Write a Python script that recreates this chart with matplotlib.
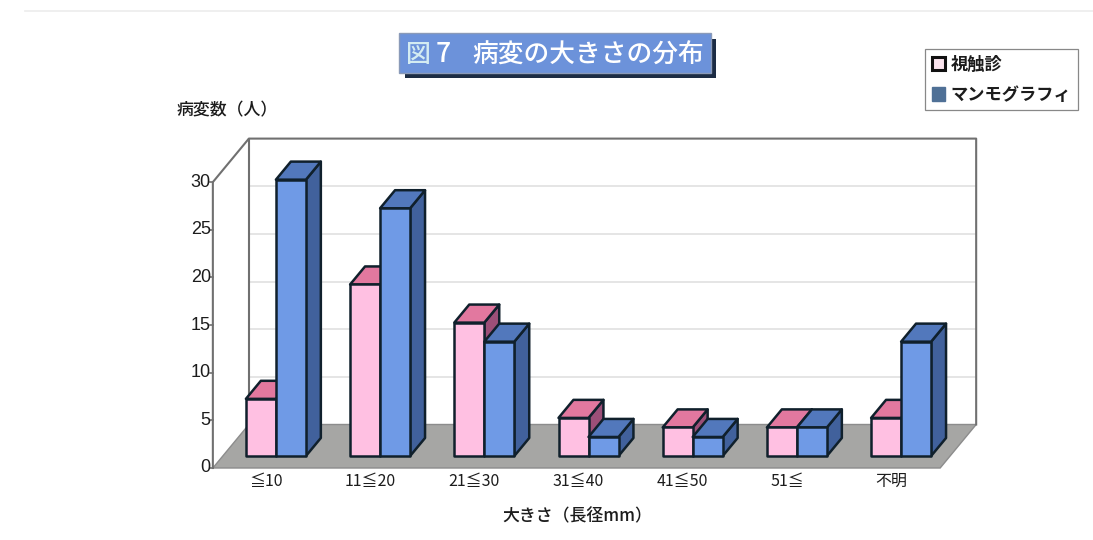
import matplotlib
matplotlib.use('Agg')
import matplotlib.pyplot as plt
from matplotlib.patches import Polygon, Patch, Rectangle

plt.rcParams['font.family'] = ['Noto Sans CJK JP', 'DejaVu Sans']

categories = ['≦10', '11≦20', '21≦30', '31≦40', '41≦50', '51≦', '不明']
palpation = [6, 18, 14, 4, 3, 3, 4]
mammography = [29, 26, 12, 2, 2, 3, 12]
y_ticks = [0, 5, 10, 15, 20, 25, 30]

W, H = 1093, 540
CAT_PX = 104.2   # pixels per category
VAL_PX = 9.53    # pixels per count
X0_PX, Y0_PX = 266, 468

# oblique depth direction, in data units per unit of depth
DEPTH_X = 36 / CAT_PX
DEPTH_Y = 43.5 / VAL_PX
BAR_W = 30 / CAT_PX
BAR_D0, BAR_D1 = 0.275, 0.69

PINK = ('#ffc0e2', '#e2789f', '#9c4f78')
BLUE = ('#6f9ae6', '#5278bc', '#41619c')
EDGE = '#10202c'
WALL = '#707070'
TEXT = '#1c1c1c'


def proj(x, v, d):
    return (x + d * DEPTH_X, v + d * DEPTH_Y)


def draw_box(ax, left, value, colors):
    right = left + BAR_W
    front = [proj(left, 0, BAR_D0), proj(right, 0, BAR_D0),
             proj(right, value, BAR_D0), proj(left, value, BAR_D0)]
    top = [proj(left, value, BAR_D0), proj(right, value, BAR_D0),
           proj(right, value, BAR_D1), proj(left, value, BAR_D1)]
    side = [proj(right, 0, BAR_D0), proj(right, 0, BAR_D1),
            proj(right, value, BAR_D1), proj(right, value, BAR_D0)]
    for pts, col in zip((side, top, front), (colors[2], colors[1], colors[0])):
        ax.add_patch(Polygon(pts, closed=True, facecolor=col, edgecolor=EDGE,
                             linewidth=1.8, joinstyle='round', zorder=5))


fig = plt.figure(figsize=(W / 100, H / 100), dpi=100)
ax = fig.add_axes([0, 0, 1, 1])
ax.set_xlim(-X0_PX / CAT_PX, (W - X0_PX) / CAT_PX)
ax.set_ylim((Y0_PX - H) / VAL_PX, Y0_PX / VAL_PX)
ax.axis('off')

xl, xr = -0.51, 6.47
vtop = y_ticks[-1]

# floor
floor = [proj(xl, 0, 0), proj(xr, 0, 0), proj(xr, 0, 1), proj(xl, 0, 1)]
ax.add_patch(Polygon(floor, closed=True, facecolor='#a6a6a4', edgecolor='#8c8c8c',
                     linewidth=1.0, zorder=2))

# gridlines on the back wall
for v in y_ticks[1:-1]:
    a, b = proj(xl, v, 1), proj(xr, v, 1)
    ax.plot([a[0], b[0]], [a[1], b[1]], color='#e0e0e0', lw=1.2, zorder=1)

# wall outlines
outline = [proj(xl, 0, 0), proj(xl, vtop, 0), proj(xl, vtop, 1), proj(xr, vtop, 1),
           proj(xr, 0, 1)]
ax.plot([p[0] for p in outline], [p[1] for p in outline], color=WALL, lw=1.5, zorder=3)
a, b = proj(xl, 0, 1), proj(xl, vtop, 1)
ax.plot([a[0], b[0]], [a[1], b[1]], color=WALL, lw=1.5, zorder=1.5)

# value axis ticks and labels
for v in y_ticks:
    ax.plot([xl - 0.03, xl], [v, v], color=WALL, lw=1.2, zorder=3)
    ax.text(xl - 0.02, v, str(v), ha='right', va='center', fontsize=13,
            family=['Liberation Sans'], color=TEXT)

for i, cat in enumerate(categories):
    draw_box(ax, i - BAR_W, palpation[i], PINK)
    draw_box(ax, i, mammography[i], BLUE)
    ax.text(i, -1.4, cat, ha='center', va='center', fontsize=11.5, color=TEXT)

# page rule along the top of the sheet
fig.add_artist(plt.Line2D([25 / W, 1], [1 - 11 / H, 1 - 11 / H], color='#ececec', lw=1.2))

# title box with drop shadow
fig.add_artist(Rectangle((405 / W, 1 - 78 / H), 311 / W, 39 / H, transform=fig.transFigure,
                         facecolor='#1c2c44', edgecolor='none'))
fig.add_artist(Rectangle((399 / W, 1 - 73 / H), 312 / W, 40 / H, transform=fig.transFigure,
                         facecolor='#6c92da', edgecolor='#8a9ab8', linewidth=1))
fig.text(418 / W, 1 - 55 / H, '図', ha='center', va='center', fontsize=18, color='#d4ecf2',
         fontweight='medium')
fig.text(443 / W, 1 - 55 / H, '7', ha='center', va='center', fontsize=19, color='white',
         fontweight='medium')
fig.text(588 / W, 1 - 55 / H, '病変の大きさの分布', ha='center', va='center', fontsize=18.5,
         color='white', fontweight='medium')

fig.text(227 / W, 1 - 110 / H, '病変数（人）', ha='center', va='center', fontsize=12.2,
         color=TEXT, fontweight='medium')
fig.text(577 / W, 1 - 516 / H, '大きさ（長径mm）', ha='center', va='center', fontsize=12.2,
         color=TEXT, fontweight='medium')

handles = [Patch(facecolor='#fbe4ee', edgecolor='#111111', linewidth=2.2),
           Patch(facecolor='#4f7096', edgecolor='#4f7096')]
leg = fig.legend(handles, ['視触診', 'マンモグラフィ'], loc='upper left',
                 bbox_to_anchor=(925 / W, 1 - 49 / H), borderaxespad=0,
                 frameon=True, fancybox=False, edgecolor='#888888', framealpha=1,
                 handlelength=0.8, handleheight=0.8, handletextpad=0.3,
                 labelspacing=0.72, borderpad=0.38, labelcolor=TEXT,
                 prop={'size': 12.4, 'weight': 'bold'})
leg.get_frame().set_linewidth(0.9)

fig.savefig('out.png', dpi=100)
